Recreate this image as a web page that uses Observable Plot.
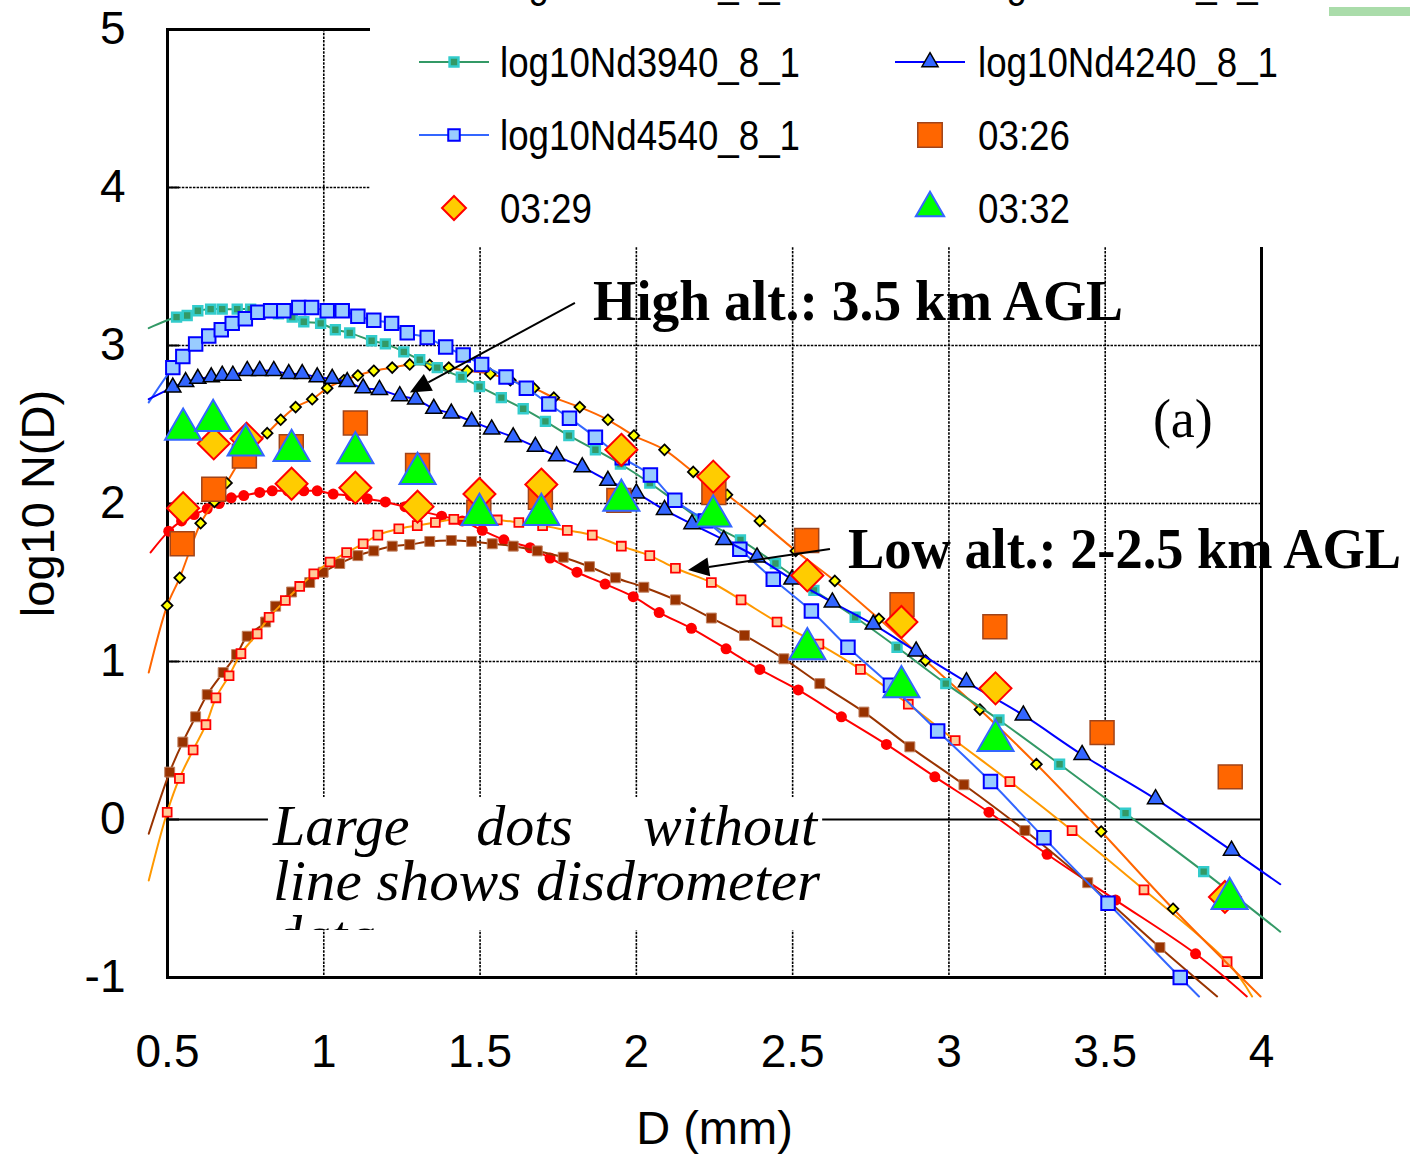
<!DOCTYPE html>
<html><head><meta charset="utf-8">
<script src="https://cdn.jsdelivr.net/npm/d3@7"></script>
<script src="https://cdn.jsdelivr.net/npm/@observablehq/plot@0.6"></script>
<style>body{margin:0;background:#fff} svg{display:block}</style>
</head><body><div id="chart"></div>
<script>
// ---- axis ticks ----
const xTicks = [0.5, 1, 1.5, 2, 2.5, 3, 3.5, 4];
const yTicks = [-1, 0, 1, 2, 3, 4, 5];
const xGrid = [1, 1.5, 2, 2.5, 3, 3.5];
const yGrid = [1, 2, 3, 4];

// ---- model spectra [D (mm), log10 N(D)] ----
const nd3940 = [[0.529,3.18],[0.563,3.19],[0.597,3.22],[0.638,3.23],[0.675,3.23],[0.723,3.23],[0.766,3.23],[0.81,3.22],[0.855,3.20],[0.899,3.18],[0.936,3.15],[0.99,3.14],[1.037,3.10],[1.083,3.08],[1.153,3.03],[1.197,3.01],[1.256,2.96],[1.307,2.91],[1.363,2.86],[1.44,2.80],[1.498,2.74],[1.568,2.67],[1.638,2.60],[1.709,2.52],[1.784,2.43],[1.869,2.34],[1.949,2.25],[2.043,2.13],[2.12,2.02],[2.205,1.90],[2.333,1.77],[2.445,1.62],[2.568,1.45],[2.70,1.28],[2.834,1.09],[2.99,0.86],[3.16,0.63],[3.354,0.35],[3.565,0.04],[3.815,-0.33]];
const nd3940Ends = [[0.44,3.11],[4.06,-0.71]];

const nd4240 = [[0.517,2.735],[0.558,2.77],[0.597,2.79],[0.64,2.80],[0.675,2.81],[0.709,2.81],[0.755,2.84],[0.795,2.84],[0.84,2.84],[0.888,2.82],[0.931,2.82],[0.979,2.80],[1.027,2.79],[1.075,2.77],[1.126,2.73],[1.178,2.72],[1.243,2.68],[1.294,2.66],[1.352,2.60],[1.408,2.57],[1.473,2.52],[1.537,2.47],[1.606,2.42],[1.677,2.36],[1.745,2.30],[1.827,2.23],[1.909,2.145],[2.0,2.065],[2.09,1.96],[2.178,1.87],[2.28,1.77],[2.386,1.66],[2.498,1.52],[2.627,1.375],[2.758,1.235],[2.895,1.065],[3.056,0.87],[3.238,0.66],[3.426,0.41],[3.661,0.13],[3.904,-0.196]];
const nd4240Ends = [[0.44,2.66],[4.06,-0.41]];

const nd4540 = [[0.517,2.86],[0.549,2.93],[0.59,3.01],[0.632,3.06],[0.672,3.10],[0.707,3.14],[0.749,3.17],[0.789,3.21],[0.83,3.22],[0.872,3.22],[0.92,3.24],[0.961,3.24],[1.011,3.22],[1.059,3.22],[1.109,3.185],[1.16,3.16],[1.217,3.14],[1.267,3.08],[1.331,3.05],[1.39,2.99],[1.446,2.94],[1.505,2.88],[1.583,2.80],[1.648,2.73],[1.72,2.63],[1.786,2.54],[1.869,2.42],[1.955,2.29],[2.045,2.18],[2.123,2.02],[2.221,1.89],[2.331,1.71],[2.438,1.52],[2.56,1.32],[2.677,1.09],[2.813,0.85],[2.964,0.56],[3.133,0.24],[3.304,-0.116],[3.509,-0.53],[3.74,-1.00]];
const nd4540Ends = [[0.44,2.64],[3.80,-1.12]];

const ndDiamond = [[0.499,1.354],[0.539,1.53],[0.606,1.875],[0.65,2.01],[0.689,2.13],[0.75,2.32],[0.819,2.445],[0.862,2.53],[0.91,2.61],[0.963,2.66],[1.011,2.73],[1.064,2.78],[1.109,2.81],[1.16,2.84],[1.219,2.86],[1.275,2.88],[1.339,2.877],[1.40,2.86],[1.459,2.84],[1.533,2.82],[1.597,2.78],[1.672,2.73],[1.736,2.67],[1.819,2.61],[1.909,2.53],[1.992,2.43],[2.09,2.34],[2.182,2.20],[2.29,2.055],[2.395,1.89],[2.51,1.70],[2.635,1.51],[2.776,1.27],[2.925,1.006],[3.099,0.696],[3.28,0.35],[3.487,-0.076],[3.717,-0.565]];
const ndDiamondEnds = [[0.44,0.93],[3.997,-1.12]];

const ndPink = [[0.499,0.046],[0.538,0.26],[0.582,0.44],[0.623,0.60],[0.655,0.77],[0.697,0.91],[0.735,1.05],[0.787,1.175],[0.825,1.28],[0.877,1.386],[0.923,1.475],[0.968,1.555],[1.02,1.63],[1.073,1.69],[1.126,1.745],[1.173,1.80],[1.24,1.84],[1.299,1.86],[1.357,1.88],[1.416,1.90],[1.485,1.90],[1.555,1.896],[1.624,1.88],[1.70,1.86],[1.779,1.83],[1.859,1.80],[1.952,1.73],[2.043,1.67],[2.125,1.59],[2.24,1.50],[2.335,1.39],[2.45,1.25],[2.584,1.11],[2.717,0.95],[2.87,0.73],[3.02,0.50],[3.195,0.24],[3.394,-0.07],[3.624,-0.445],[3.89,-0.90]];
const ndPinkEnds = [[0.44,-0.386],[3.97,-1.12]];

const ndBrown = [[0.507,0.30],[0.549,0.49],[0.59,0.65],[0.627,0.79],[0.678,0.93],[0.721,1.044],[0.755,1.16],[0.814,1.25],[0.846,1.35],[0.897,1.44],[0.955,1.50],[0.998,1.565],[1.051,1.62],[1.109,1.67],[1.16,1.70],[1.219,1.73],[1.275,1.74],[1.339,1.76],[1.408,1.766],[1.473,1.76],[1.539,1.745],[1.606,1.73],[1.683,1.70],[1.766,1.66],[1.85,1.60],[1.933,1.53],[2.024,1.47],[2.125,1.39],[2.24,1.275],[2.346,1.165],[2.472,1.017],[2.587,0.86],[2.728,0.68],[2.875,0.46],[3.048,0.22],[3.243,-0.07],[3.444,-0.40],[3.675,-0.81]];
const ndBrownEnds = [[0.44,-0.09],[3.858,-1.12]];

const ndRed = [[0.504,1.825],[0.545,1.89],[0.585,1.93],[0.627,1.966],[0.665,2.00],[0.704,2.036],[0.744,2.05],[0.795,2.07],[0.835,2.08],[0.885,2.08],[0.936,2.08],[0.979,2.08],[1.03,2.06],[1.085,2.05],[1.139,2.03],[1.197,2.01],[1.26,1.98],[1.315,1.95],[1.377,1.92],[1.443,1.89],[1.507,1.83],[1.576,1.77],[1.66,1.72],[1.724,1.655],[1.81,1.565],[1.90,1.49],[1.99,1.41],[2.073,1.31],[2.176,1.21],[2.287,1.08],[2.395,0.95],[2.518,0.82],[2.656,0.65],[2.80,0.475],[2.955,0.27],[3.128,0.046],[3.314,-0.22],[3.533,-0.51],[3.789,-0.85]];
const ndRedEnds = [[0.446,1.69],[3.953,-1.12]];

// ---- disdrometer (large markers, no line) ----
const dis0326 = [[0.547,1.745],[0.648,2.09],[0.746,2.30],[0.896,2.36],[1.101,2.51],[1.30,2.24],[1.496,1.945],[1.693,2.04],[1.944,2.02],[2.248,2.07],[2.545,1.766],[2.85,1.36],[3.147,1.22],[3.49,0.55],[3.90,0.27]];
const dis0329 = [[0.55,1.97],[0.648,2.38],[0.753,2.41],[0.897,2.125],[1.101,2.10],[1.30,1.98],[1.498,2.06],[1.696,2.12],[1.952,2.34],[2.246,2.17],[2.547,1.545],[2.848,1.25],[3.149,0.83],[3.883,-0.49]];
const dis0332 = [[0.55,2.47],[0.646,2.525],[0.75,2.37],[0.897,2.335],[1.101,2.32],[1.30,2.19],[1.498,1.93],[1.696,1.93],[1.952,2.02],[2.246,1.92],[2.547,1.08],[2.848,0.84],[3.149,0.50],[3.898,-0.50]];

// ---- legend labels ----
const legendRow0 = ["log10Nd3340_8_1", "log10Nd3640_8_1"];
const legendLabels = ["log10Nd3940_8_1", "log10Nd4240_8_1", "log10Nd4540_8_1", "03:26", "03:29", "03:32"];

// ---- styles ----
const lineSeries = [
  {pts: ndRed, ends: ndRedEnds, line: "#ff0000", symbol: "circle", r: 5.5, fill: "#ff0000", stroke: "none", sw: 0},
  {pts: ndBrown, ends: ndBrownEnds, line: "#993300", symbol: "square", r: 5.6, fill: "#993300", stroke: "#c08060", sw: 1},
  {pts: ndPink, ends: ndPinkEnds, line: "#ff9900", symbol: "square", r: 5, fill: "#ffcc99", stroke: "#ff0000", sw: 1.8},
  {pts: ndDiamond, ends: ndDiamondEnds, line: "#ff6600", symbol: "diamond2", r: 4.8, fill: "#ffff00", stroke: "#000000", sw: 1.8},
  {pts: nd3940, ends: nd3940Ends, line: "#339966", symbol: "square", r: 5, fill: "#339966", stroke: "#33cccc", sw: 2.5},
  {pts: nd4540, ends: nd4540Ends, line: "#3366ff", symbol: "square", r: 7.6, fill: "#99ccff", stroke: "#0000ff", sw: 2},
  {pts: nd4240, ends: nd4240Ends, line: "#0000ff", symbol: "triangle", r: 6, fill: "#3366ff", stroke: "#000000", sw: 1.5}
];
const disSeries = [
  {pts: dis0326, symbol: "square", r: 13.5, fill: "#ff6600", stroke: "#a0441a", sw: 1.5},
  {pts: dis0329, symbol: "diamond2", r: 14.4, fill: "#ffcc00", stroke: "#ff0000", sw: 2},
  {pts: dis0332, symbol: "triangle", r: 13.4, fill: "#00ff00", stroke: "#3366ff", sw: 2}
];

const marks = [
  Plot.ruleX(xGrid, {x: d => d, stroke: "#000", strokeWidth: 1.6, strokeDasharray: "2.5,1.2"}),
  Plot.ruleY(yGrid, {y: d => d, stroke: "#000", strokeWidth: 1.6, strokeDasharray: "2.5,1.2"}),
  Plot.ruleY([0], {y: d => d, stroke: "#000", strokeWidth: 2}),
  Plot.frame({stroke: "#000", strokeWidth: 3}),
  Plot.axisY({ticks: yTicks, tickSize: 12, dx: 12, tickFormat: () => "", label: null, strokeWidth: 2}),
  Plot.text(xTicks, {x: d => d, text: d => String(d), frameAnchor: "bottom", dy: 75, lineAnchor: "middle", fontSize: 46}),
  Plot.text(yTicks, {y: d => d, text: d => String(d), frameAnchor: "left", dx: -42, textAnchor: "end", lineAnchor: "middle", fontSize: 46}),
  Plot.text(["D (mm)"], {text: d => d, frameAnchor: "bottom", dy: 151, lineAnchor: "middle", fontSize: 47}),
  Plot.text(["log10 N(D)"], {text: d => d, frameAnchor: "left", dx: -129, rotate: -90, lineAnchor: "middle", textAnchor: "middle", fontSize: 47})
];
for (const s of lineSeries) {
  marks.push(Plot.line([s.ends[0], ...s.pts, s.ends[1]], {x: d => d[0], y: d => d[1], stroke: s.line, strokeWidth: 2, curve: "catmull-rom"}));
  marks.push(Plot.dot(s.pts, {x: d => d[0], y: d => d[1], symbol: s.symbol, r: s.r, fill: s.fill, stroke: s.stroke, strokeWidth: s.sw}));
}
for (const s of disSeries) {
  marks.push(Plot.dot(s.pts, {x: d => d[0], y: d => d[1], symbol: s.symbol, r: s.r, fill: s.fill, stroke: s.stroke, strokeWidth: s.sw}));
}

const svg = Plot.plot({
  width: 1410, height: 1154,
  marginLeft: 167, marginRight: 149, marginTop: 29, marginBottom: 177,
  x: {domain: [0.5, 4], axis: null},
  y: {domain: [-1, 5], axis: null},
  style: {fontFamily: "'Liberation Sans', Arial, sans-serif", background: "#fff", color: "#000"},
  marks
});
document.getElementById("chart").appendChild(svg);

// ---- annotations (positions in data units, mapped through Plot's scales) ----
const X = v => svg.scale("x").apply(v), Y = v => svg.scale("y").apply(v);
const g = d3.select(svg).append("g").attr("text-anchor", "start");
const serif = "'Liberation Serif', 'Times New Roman', serif";

const arrows = [{x1: 1.805, y1: 3.266, x2: 1.277, y2: 2.70}, {x1: 2.621, y1: 1.709, x2: 2.167, y2: 1.576}];
for (const a of arrows) {
  const p1 = [X(a.x1), Y(a.y1)], p2 = [X(a.x2), Y(a.y2)];
  const dx = p2[0]-p1[0], dy = p2[1]-p1[1], L = Math.hypot(dx, dy), ux = dx/L, uy = dy/L;
  const hl = 21, hw = 9.5;
  const b = [p2[0]-ux*hl, p2[1]-uy*hl];
  g.append("line").attr("x1", p1[0]).attr("y1", p1[1]).attr("x2", b[0]).attr("y2", b[1]).attr("stroke", "#000").attr("stroke-width", 2);
  g.append("path").attr("d", `M${p2[0]},${p2[1]}L${b[0]-uy*hw},${b[1]+ux*hw}L${b[0]+uy*hw},${b[1]-ux*hw}Z`).attr("fill", "#000");
}
const labels = [
  {x: 1.863, y: 3.158, text: "High alt.: 3.5 km AGL", len: 530},
  {x: 2.679, y: 1.589, text: "Low alt.: 2-2.5 km AGL", len: 553}
];
for (const t of labels) {
  g.append("text").attr("x", X(t.x)).attr("y", Y(t.y)).attr("text-anchor", "start").text(t.text)
    .attr("font-family", serif).attr("font-weight", "bold").attr("font-size", 56)
    .attr("textLength", t.len).attr("lengthAdjust", "spacingAndGlyphs");
}
g.append("text").attr("x", X(3.75)).attr("y", Y(2.418)).attr("text-anchor", "middle")
  .attr("font-family", serif).attr("font-size", 54).text("(a)");

// text box with clipped italic note
const box = {x1: 0.823, x2: 2.596, y1: 0.139, y2: -0.703};
const defs = d3.select(svg).append("defs");
defs.append("clipPath").attr("id", "noteclip").append("rect")
  .attr("x", X(box.x1)).attr("y", Y(box.y1)).attr("width", X(box.x2)-X(box.x1)).attr("height", Y(box.y2)-Y(box.y1));
g.append("rect").attr("x", X(box.x1)).attr("y", Y(box.y1)).attr("width", X(box.x2)-X(box.x1)).attr("height", Y(box.y2)-Y(box.y1)).attr("fill", "#fff");
const note = g.append("g").attr("clip-path", "url(#noteclip)").attr("font-family", serif).attr("font-style", "italic").attr("font-size", 58).attr("text-anchor", "start");
note.append("text").attr("x", X(0.839)).attr("y", Y(-0.165)).text("Large");
note.append("text").attr("x", X(1.489)).attr("y", Y(-0.165)).text("dots");
note.append("text").attr("x", X(2.58)).attr("y", Y(-0.165)).attr("text-anchor", "end").text("without");
note.append("text").attr("x", X(0.839)).attr("y", Y(-0.513)).attr("textLength", 547).attr("lengthAdjust", "spacingAndGlyphs").text("line shows disdrometer");
note.append("text").attr("x", X(0.839)).attr("y", Y(-0.861)).text("data");

// ---- legend (layout in pixels) ----
const lg = d3.select(svg).append("g").attr("font-family", "'Liberation Sans', Arial, sans-serif").attr("font-size", 42).attr("text-anchor", "start");
lg.append("rect").attr("x", 370).attr("y", 0).attr("width", 1040).attr("height", 247).attr("fill", "#fff");
lg.append("rect").attr("x", 1329).attr("y", 7).attr("width", 81).attr("height", 9).attr("fill", "#aadcaa");
const sym = (type, r) => d3.symbol(type, Math.PI * r * r)();
const symMap = {square: d3.symbolSquare, diamond2: d3.symbolDiamond2, triangle: d3.symbolTriangle, circle: d3.symbolCircle};
const colX = [454, 930], textX = [500, 978], rowY = [62, 135, 208];
const legendItems = [
  {label: legendLabels[0], col: 0, row: 0, line: "#339966", s: lineSeries[4]},
  {label: legendLabels[1], col: 1, row: 0, line: "#0000ff", s: {...lineSeries[6], r: 6}},
  {label: legendLabels[2], col: 0, row: 1, line: "#3366ff", s: {...lineSeries[5], r: 6.5}},
  {label: legendLabels[3], col: 1, row: 1, line: null, s: {...disSeries[0], r: 13.8}},
  {label: legendLabels[4], col: 0, row: 2, line: null, s: {...disSeries[1], r: 10.8}},
  {label: legendLabels[5], col: 1, row: 2, line: null, s: {...disSeries[2], r: 10.5}}
];
legendRow0.forEach((t, i) => {
  lg.append("text").attr("x", textX[i]).attr("y", -3).attr("textLength", 300).attr("lengthAdjust", "spacingAndGlyphs").text(t);
});
for (const it of legendItems) {
  const cx = colX[it.col], cy = rowY[it.row];
  if (it.line) lg.append("line").attr("x1", cx-35).attr("x2", cx+35).attr("y1", cy).attr("y2", cy).attr("stroke", it.line).attr("stroke-width", 2);
  lg.append("path").attr("d", sym(symMap[it.s.symbol], it.s.r)).attr("transform", `translate(${cx},${cy})`)
    .attr("fill", it.s.fill).attr("stroke", it.s.stroke).attr("stroke-width", it.s.sw);
  const len = it.label.length > 6 ? 300 : 92;
  lg.append("text").attr("x", textX[it.col]).attr("y", cy + 15).attr("textLength", len).attr("lengthAdjust", "spacingAndGlyphs").text(it.label);
}
</script>
</body></html>
